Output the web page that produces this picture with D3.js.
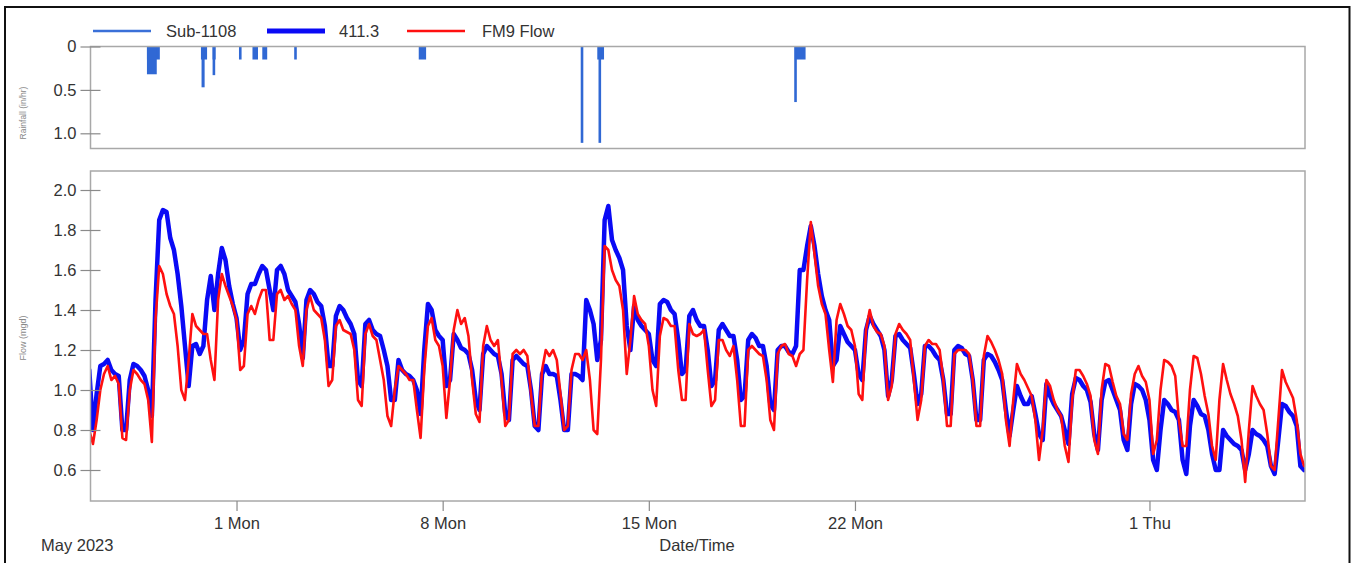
<!DOCTYPE html>
<html><head><meta charset="utf-8">
<script src="https://cdn.jsdelivr.net/npm/d3@7"></script>
<style>
body{margin:0;background:#fff;}
svg{display:block;font-family:"Liberation Sans",Arial,Helvetica,sans-serif;}
</style>
</head><body>
<svg id="c" width="1351" height="563"></svg>
<script>
// ---------------- DATA ----------------
const legendLabels = ["Sub-1108", "411.3", "FM9 Flow"];

// Rainfall (in/hr), Sub-1108 gauge: events as start / end / intensity
const rainStart = ["2023-04-27T23:00","2023-04-27T23:00","2023-04-29T19:00","2023-04-29T19:30","2023-04-30T04:30","2023-04-30T04:30",
                   "2023-05-01T02:00","2023-05-01T13:00","2023-05-01T21:00","2023-05-02T23:00","2023-05-07T04:30",
                   "2023-05-12T16:30","2023-05-13T06:00","2023-05-13T07:00","2023-05-19T23:00","2023-05-19T22:30"];
const rainEnd   = ["2023-04-28T09:30","2023-04-28T07:00","2023-04-30T00:00","2023-04-29T22:00","2023-04-30T07:00","2023-04-30T06:30",
                   "2023-05-01T04:00","2023-05-01T17:30","2023-05-02T01:00","2023-05-03T01:00","2023-05-07T10:30",
                   "2023-05-12T18:30","2023-05-13T11:30","2023-05-13T09:00","2023-05-20T07:45","2023-05-20T00:30"];
const rainValue = [0.15, 0.32, 0.15, 0.47, 0.15, 0.33,
                   0.15, 0.15, 0.15, 0.15, 0.15,
                   1.11, 0.15, 1.11, 0.15, 0.64];

// Flow (mgd), sampled every 3 hours from flowStart
const flowStart = "2023-04-26T00:00";
const flowStepHours = 3;
const flow411 = [
 1.10,0.80,0.98,1.12,1.13,1.15,1.10,1.08, // Apr 26
 1.07,0.80,0.80,1.05,1.13,1.12,1.10,1.07, // Apr 27
 1.00,0.87,1.45,1.85,1.90,1.89,1.76,1.70, // Apr 28
 1.58,1.42,1.22,1.02,1.22,1.23,1.18,1.22, // Apr 29
 1.45,1.57,1.40,1.58,1.71,1.65,1.52,1.43, // Apr 30
 1.36,1.20,1.25,1.48,1.53,1.53,1.58,1.62, // May 1
 1.60,1.50,1.40,1.60,1.62,1.58,1.50,1.47, // May 2
 1.44,1.33,1.16,1.45,1.50,1.48,1.44,1.42, // May 3
 1.32,1.12,1.12,1.37,1.42,1.40,1.36,1.33, // May 4
 1.28,1.05,1.02,1.33,1.35,1.30,1.28,1.27, // May 5
 1.20,1.12,0.95,0.95,1.15,1.10,1.08,1.07, // May 6
 1.05,1.00,0.88,1.20,1.43,1.40,1.30,1.27, // May 7
 1.25,1.02,1.05,1.28,1.25,1.21,1.20,1.18, // May 8
 1.10,0.95,0.90,1.18,1.22,1.20,1.18,1.17, // May 9
 1.08,0.88,0.85,1.15,1.17,1.15,1.13,1.12, // May 10
 1.00,0.82,0.80,1.08,1.12,1.08,1.08,1.07, // May 11
 0.95,0.80,0.80,1.08,1.08,1.07,1.05,1.45, // May 12
 1.40,1.33,1.15,1.25,1.85,1.92,1.75,1.70, // May 13
 1.66,1.60,1.32,1.20,1.42,1.35,1.32,1.30, // May 14
 1.28,1.15,1.12,1.43,1.45,1.44,1.40,1.38, // May 15
 1.25,1.08,1.10,1.37,1.40,1.35,1.32,1.32, // May 16
 1.20,1.02,1.05,1.30,1.33,1.30,1.27,1.27, // May 17
 1.15,0.95,0.97,1.25,1.28,1.26,1.22,1.22, // May 18
 1.12,0.93,0.90,1.20,1.22,1.22,1.19,1.18, // May 19
 1.22,1.60,1.60,1.72,1.82,1.72,1.58,1.47, // May 20
 1.40,1.35,1.12,1.15,1.32,1.28,1.24,1.22, // May 21
 1.20,1.08,1.05,1.30,1.37,1.33,1.30,1.27, // May 22
 1.20,0.97,1.05,1.27,1.28,1.25,1.23,1.21, // May 23
 1.08,0.93,0.98,1.22,1.22,1.20,1.17,1.15, // May 24
 1.05,0.88,0.88,1.20,1.22,1.21,1.18,1.17, // May 25
 1.05,0.85,0.85,1.15,1.18,1.17,1.14,1.10, // May 26
 1.05,0.90,0.77,0.90,1.02,0.97,0.93,0.93, // May 27
 0.97,0.88,0.78,0.75,1.03,0.97,0.93,0.90, // May 28
 0.87,0.80,0.73,0.98,1.06,1.05,1.02,1.00, // May 29
 0.94,0.78,0.70,0.95,1.04,1.05,1.00,0.95, // May 30
 0.90,0.75,0.70,0.93,1.03,1.02,1.00,0.95, // May 31
 0.85,0.65,0.60,0.80,0.95,0.93,0.90,0.89, // Jun 1
 0.85,0.65,0.58,0.82,0.95,0.92,0.88,0.87, // Jun 2
 0.80,0.68,0.60,0.60,0.80,0.77,0.75,0.73, // Jun 3
 0.72,0.70,0.60,0.68,0.80,0.78,0.77,0.75, // Jun 4
 0.72,0.62,0.58,0.75,0.93,0.92,0.89,0.87, // Jun 5
 0.82,0.62,0.60                           // Jun 6
];
const flowFM9 = [
 0.80,0.73,0.85,1.00,1.08,1.12,1.05,1.07, // Apr 26
 1.03,0.76,0.75,1.00,1.10,1.08,1.05,1.03, // Apr 27
 0.95,0.74,1.35,1.62,1.58,1.48,1.42,1.38, // Apr 28
 1.22,1.00,0.95,1.15,1.38,1.32,1.30,1.28, // Apr 29
 1.28,1.15,1.05,1.45,1.58,1.52,1.47,1.42, // Apr 30
 1.35,1.10,1.12,1.38,1.42,1.38,1.45,1.50, // May 1
 1.50,1.25,1.25,1.48,1.50,1.45,1.47,1.43, // May 2
 1.40,1.22,1.12,1.40,1.47,1.40,1.38,1.36, // May 3
 1.25,1.02,1.05,1.32,1.35,1.30,1.29,1.28, // May 4
 1.20,0.95,0.92,1.28,1.33,1.27,1.25,1.15, // May 5
 1.05,0.87,0.82,1.00,1.12,1.10,1.08,1.05, // May 6
 1.05,0.90,0.76,1.10,1.32,1.36,1.25,1.22, // May 7
 1.12,0.86,1.05,1.30,1.40,1.33,1.36,1.27, // May 8
 1.05,0.88,0.84,1.22,1.32,1.25,1.22,1.25, // May 9
 1.05,0.82,0.85,1.18,1.20,1.18,1.20,1.17, // May 10
 0.98,0.82,0.82,1.10,1.20,1.17,1.20,1.15, // May 11
 0.98,0.80,0.82,1.10,1.18,1.18,1.15,1.20, // May 12
 1.05,0.80,0.78,1.15,1.72,1.70,1.60,1.55, // May 13
 1.52,1.40,1.08,1.25,1.47,1.38,1.35,1.33, // May 14
 1.22,1.00,0.92,1.27,1.36,1.35,1.32,1.32, // May 15
 1.10,0.95,0.95,1.33,1.28,1.27,1.28,1.30, // May 16
 1.10,0.92,0.95,1.25,1.25,1.20,1.17,1.22, // May 17
 1.05,0.82,0.82,1.20,1.22,1.20,1.18,1.17, // May 18
 1.05,0.85,0.80,1.18,1.22,1.23,1.18,1.17, // May 19
 1.12,1.18,1.20,1.55,1.84,1.68,1.52,1.43, // May 20
 1.38,1.20,1.04,1.35,1.43,1.38,1.32,1.30, // May 21
 1.22,0.98,0.95,1.30,1.40,1.32,1.29,1.28, // May 22
 1.22,0.95,1.02,1.28,1.33,1.30,1.28,1.25, // May 23
 1.05,0.85,0.95,1.22,1.25,1.23,1.23,1.20, // May 24
 1.05,0.82,0.82,1.18,1.20,1.20,1.20,1.18, // May 25
 1.05,0.82,0.82,1.17,1.27,1.24,1.20,1.15, // May 26
 1.08,0.85,0.72,0.95,1.13,1.08,1.05,1.01, // May 27
 0.97,0.85,0.65,0.80,1.05,1.02,0.95,0.90, // May 28
 0.87,0.72,0.64,0.95,1.10,1.10,1.07,1.03, // May 29
 0.97,0.75,0.68,1.00,1.13,1.12,1.04,0.97, // May 30
 0.93,0.78,0.75,0.98,1.08,1.12,1.07,1.04, // May 31
 0.95,0.68,0.75,1.00,1.15,1.14,1.12,1.07, // Jun 1
 0.85,0.72,0.72,1.00,1.17,1.16,1.08,0.97, // Jun 2
 0.88,0.72,0.65,0.95,1.13,1.05,0.98,0.93, // Jun 3
 0.87,0.75,0.54,0.80,1.02,0.97,0.93,0.90, // Jun 4
 0.78,0.62,0.60,0.85,1.10,1.04,1.00,0.96, // Jun 5
 0.85,0.68,0.62                           // Jun 6
];

const xTickDates = ["2023-05-01T00:00","2023-05-08T00:00","2023-05-15T00:00","2023-05-22T00:00","2023-06-01T00:00"];
const rainTicks = [0, 0.5, 1.0];
const flowTicks = [0.6, 0.8, 1.0, 1.2, 1.4, 1.6, 1.8, 2.0];

// ---------------- CHART ----------------
const parse = d3.timeParse("%Y-%m-%dT%H:%M");
const svg = d3.select("#c");
const FS = 16.5;
const txt = "#333";

// outer frame
svg.append("path").attr("d", "M5,600 L5,7 L1349.5,7 L1349.5,600")
  .attr("fill","none").attr("stroke","#111").attr("stroke-width",2);

const L = 90.5, R = 1305;
const x = d3.scaleTime()
  .domain([parse("2023-04-26T01:00"), parse("2023-06-06T06:45")])
  .range([L, R]);

const rainTop = 46.5, rainBot = 148.5;
const yRain = d3.scaleLinear().domain([0, 1.175]).range([rainTop, rainBot]);
const flowTop = 171, flowBot = 501;
const yFlow = d3.scaleLinear().domain([0.445, 2.095]).range([flowBot, flowTop]);

const defs = svg.append("defs");
defs.append("clipPath").attr("id","clipFlow").append("rect")
  .attr("x",L).attr("y",flowTop).attr("width",R-L).attr("height",flowBot-flowTop);
defs.append("clipPath").attr("id","clipRain").append("rect")
  .attr("x",L).attr("y",rainTop).attr("width",R-L).attr("height",rainBot-rainTop);

const frameColor = "#a8a8a8";

// ---- rainfall panel ----
const rainColor = "#3068d4";
const rainG = svg.append("g").attr("clip-path","url(#clipRain)");
rainValue.forEach((v, i) => {
  const x0 = x(parse(rainStart[i])), x1 = x(parse(rainEnd[i]));
  const w = Math.max(x1 - x0, 2.6);
  rainG.append("rect")
    .attr("x", x0).attr("y", yRain(0))
    .attr("width", w).attr("height", yRain(v) - yRain(0))
    .attr("fill", rainColor);
});
svg.append("rect").attr("x",L).attr("y",rainTop).attr("width",R-L).attr("height",rainBot-rainTop)
  .attr("fill","none").attr("stroke",frameColor).attr("stroke-width",1.5);

const rainAxis = svg.append("g").attr("transform","translate(100.5,0)")
  .call(d3.axisLeft(yRain).tickValues(rainTicks).tickSize(20).tickPadding(4)
    .tickFormat(d => d === 0 ? "0" : d3.format(".1f")(d)));
rainAxis.select(".domain").remove();

// ---- flow panel ----
const t0 = parse(flowStart);
const tAt = i => d3.timeHour.offset(t0, i * flowStepHours);
const line = d3.line().x((d, i) => x(tAt(i))).y(d => yFlow(d));
const flowG = svg.append("g").attr("clip-path","url(#clipFlow)");
flowG.append("path").datum(flow411).attr("d", line)
  .attr("fill","none").attr("stroke","#0a0af5").attr("stroke-width",4.5)
  .attr("stroke-linejoin","round").attr("stroke-linecap","round");
flowG.append("path").datum(flowFM9).attr("d", line)
  .attr("fill","none").attr("stroke","#ff1010").attr("stroke-width",2.6)
  .attr("stroke-linejoin","round").attr("stroke-linecap","round");

svg.append("rect").attr("x",L).attr("y",flowTop).attr("width",R-L).attr("height",flowBot-flowTop)
  .attr("fill","none").attr("stroke",frameColor).attr("stroke-width",1.5);

const flowAxis = svg.append("g").attr("transform","translate(100.5,0)")
  .call(d3.axisLeft(yFlow).tickValues(flowTicks).tickSize(20).tickPadding(4)
    .tickFormat(d3.format(".1f")));
flowAxis.select(".domain").remove();

const xAxis = svg.append("g").attr("transform",`translate(0,${flowBot})`)
  .call(d3.axisBottom(x).tickValues(xTickDates.map(parse)).tickSize(10).tickPadding(6)
    .tickFormat(d3.timeFormat("%-d %a")));
xAxis.select(".domain").remove();

svg.selectAll(".tick line").attr("stroke","#8a8a8a").attr("stroke-width",1.2);
svg.selectAll(".tick text").attr("fill",txt).style("font-size",FS+"px")
  .style("font-family",'"Liberation Sans",Arial,sans-serif');

// axis titles
svg.append("text").attr("transform","translate(26,113) rotate(-90)")
  .attr("text-anchor","middle").attr("fill","#888").style("font-size","8.5px")
  .text("Rainfall (in/hr)");
svg.append("text").attr("transform","translate(26,338) rotate(-90)")
  .attr("text-anchor","middle").attr("fill","#888").style("font-size","9px")
  .text("Flow (mgd)");
svg.append("text").attr("x",697).attr("y",551).attr("text-anchor","middle")
  .attr("fill",txt).style("font-size",FS+"px").text("Date/Time");
svg.append("text").attr("x",41).attr("y",551)
  .attr("fill",txt).style("font-size",FS+"px").text("May 2023");

// legend
const legendStyle = [
  {x1:93, x2:151, tx:166, color:"#3a70d8", w:2.5},
  {x1:267, x2:325, tx:339, color:"#0a0af5", w:5},
  {x1:407, x2:465, tx:482, color:"#ff1010", w:2.5}
];
legendLabels.forEach((lab, i) => {
  const s = legendStyle[i];
  svg.append("line").attr("x1",s.x1).attr("x2",s.x2).attr("y1",31).attr("y2",31)
    .attr("stroke",s.color).attr("stroke-width",s.w);
  svg.append("text").attr("x",s.tx).attr("y",37).attr("fill",txt)
    .style("font-size",FS+"px").text(lab);
});
</script>
</body></html>
